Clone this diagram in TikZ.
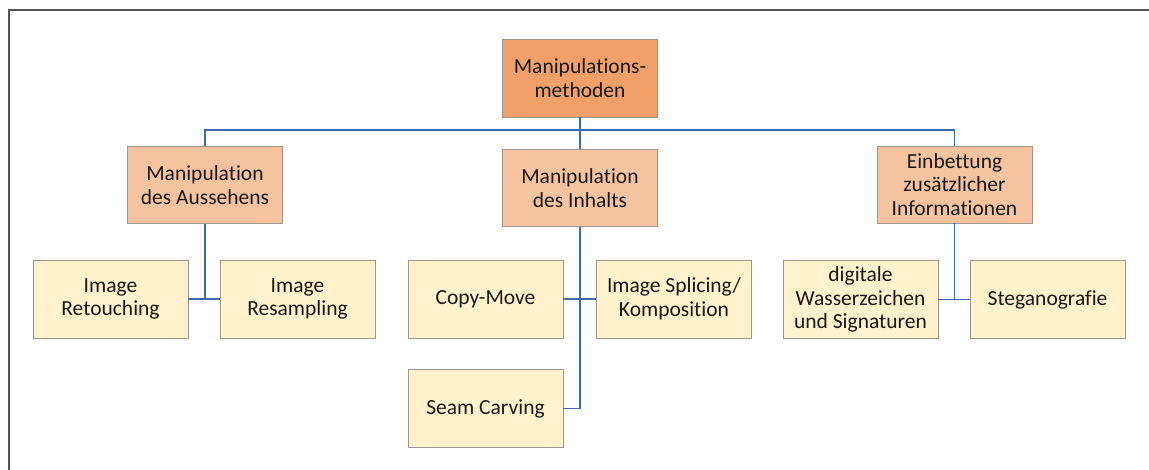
\documentclass[tikz,border=0pt]{standalone}
\usepackage{fontspec}
\setmainfont[Ligatures=NoCommon]{Carlito}
\definecolor{topfill}{RGB}{240,160,104}
\definecolor{midfill}{RGB}{245,195,160}
\definecolor{lowfill}{RGB}{255,242,204}
\definecolor{boxline}{RGB}{160,150,140}
\definecolor{conn}{RGB}{64,104,176}
\definecolor{frame}{RGB}{85,85,85}
\tikzset{
  box/.style={draw=boxline, line width=0.8pt, minimum width=155pt, minimum height=77pt,
    inner sep=0pt, align=center, font=\fontsize{21.5}{23.5}\selectfont, text=black!90},
  topbox/.style={box, fill=topfill, minimum height=78pt},
  midbox/.style={box, fill=midfill},
  lowbox/.style={box, fill=lowfill, minimum height=78pt},
  link/.style={draw=conn, line width=1.8pt}
}
\begin{document}
\begin{tikzpicture}[x=1pt,y=-1pt]
\useasboundingbox (0,0) rectangle (1149,470);
\draw[frame, line width=2pt] (9,470) -- (9,10) -- (1149,10);
\coordinate (bus) at (580,130);
% nodes
\node[topbox] (top) at (580,78) {Manipulations-\\methoden};
\node[midbox] (aus) at (205,185) {Manipulation\\des Aussehens};
\node[midbox] (inh) at (580,188) {Manipulation\\des Inhalts};
\node[midbox] (ein) at (954.5,184.5) {Einbettung\\zusätzlicher\\Informationen};
\node[lowbox] (ret) at (110.5,299) {Image\\Retouching};
\node[lowbox] (res) at (297.5,299) {Image\\Resampling};
\node[lowbox] (cm) at (485.5,299) {Copy-Move};
\node[lowbox] (isp) at (674,299) {Image Splicing/\\Komposition};
\node[lowbox] (sc) at (485.5,408.5) {Seam Carving};
\node[lowbox] (dig) at (860.5,299.5) {digitale\\Wasserzeichen\\und Signaturen};
\node[lowbox] (steg) at (1047.5,299.5) {Steganografie};
% connectors
\draw[link] (top.south) -- (inh.north);
\draw[link] (aus.north) |- (bus) -| (ein.north);
\draw[link] (aus.south) -- (aus.south |- ret.east);
\draw[link] (ret.east) -- (res.west);
\draw[link] (inh.south) |- (sc.east);
\draw[link] (cm.east) -- (isp.west);
\draw[link] (ein.south) -- (ein.south |- dig.east);
\draw[link] (dig.east) -- (steg.west);
\end{tikzpicture}
\end{document}
